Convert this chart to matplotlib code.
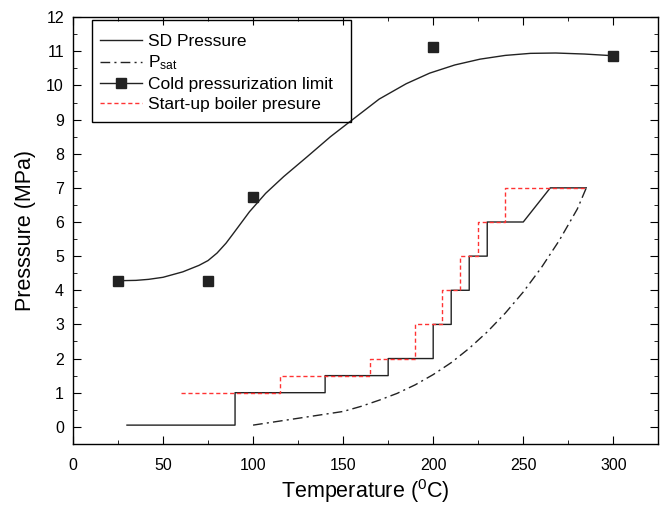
import matplotlib
matplotlib.use('Agg')
import matplotlib.pyplot as plt
from matplotlib.lines import Line2D
from matplotlib.patches import Rectangle
from matplotlib.ticker import MultipleLocator

plt.rcParams['font.family'] = ['Liberation Sans', 'DejaVu Sans']
plt.rcParams['mathtext.fontset'] = 'custom'
plt.rcParams['mathtext.rm'] = 'Liberation Sans'
plt.rcParams['mathtext.it'] = 'Liberation Sans:italic'

# SD pressure (step line, vertices)
sd_T = [30, 90, 90, 140, 140, 175, 175, 200, 200, 210, 210, 220, 220, 230, 230, 250, 265, 285]
sd_P = [0.05, 0.05, 1, 1, 1.5, 1.5, 2, 2, 3, 3, 4, 4, 5, 5, 6, 6, 7, 7]

# start-up boiler pressure (step line, vertices)
su_T = [60, 115, 115, 165, 165, 190, 190, 205, 205, 215, 215, 225, 225, 240, 240, 285]
su_P = [1, 1, 1.5, 1.5, 2, 2, 3, 3, 4, 4, 5, 5, 6, 6, 7, 7]

# saturation pressure
sat_T = [100, 150, 160, 170, 180, 190, 200, 210, 220, 230, 240, 250, 260, 270, 280, 285]
sat_P = [0.05, 0.45, 0.6, 0.78, 0.98, 1.23, 1.53, 1.88, 2.3, 2.78, 3.33, 3.95, 4.66, 5.46, 6.38, 7.0]

# cold pressurization limit (points + fitted curve)
cold_T = [25, 75, 100, 200, 300]
cold_P = [4.28, 4.28, 6.72, 11.12, 10.87]
fit_T = [25, 35, 42, 50, 61, 70, 75, 80, 85, 89, 98, 107, 117, 130, 143, 155, 170,
         185, 198, 212, 226, 240, 254, 268, 284, 300]
fit_P = [4.28, 4.29, 4.32, 4.38, 4.54, 4.73, 4.87, 5.09, 5.38, 5.66, 6.3, 6.84, 7.33,
         7.91, 8.5, 8.99, 9.6, 10.05, 10.36, 10.6, 10.77, 10.88, 10.94, 10.95, 10.92, 10.87]

fig = plt.figure(figsize=(6.63, 5.05), dpi=100)
ax = fig.add_axes([0.110, 0.121, 0.883, 0.845])

dark = '#222222'
ax.plot(sd_T, sd_P, color=dark, lw=1.0)
ax.plot(sat_T, sat_P, color=dark, lw=1.0, dashes=(7, 3, 1.5, 3))
ax.plot(fit_T, fit_P, color=dark, lw=1.0)
ax.plot(cold_T, cold_P, ls='none', marker='s', ms=7, color=dark)
ax.plot(su_T, su_P, color='#ff3333', lw=1.0, dashes=(3, 2))

ax.set_xlim(0, 325)
ax.set_ylim(-0.5, 12)
ax.xaxis.set_major_locator(MultipleLocator(50))
ax.xaxis.set_minor_locator(MultipleLocator(25))
ax.yaxis.set_major_locator(MultipleLocator(1))
ax.yaxis.set_minor_locator(MultipleLocator(0.5))
ax.tick_params(which='both', direction='in', top=True, right=True, labelsize=11.5)
ax.tick_params(which='major', length=6)
ax.tick_params(which='minor', length=3)
ax.tick_params(axis='x', pad=10)
ax.tick_params(axis='y', pad=6.5)
for s in ax.spines.values():
    s.set_linewidth(1.0)

ax.set_xlabel(r'Temperature ($^{0}$C)', fontsize=15.5, labelpad=3)
ax.set_ylabel('Presssure (MPa)', fontsize=15.5, labelpad=7)

# legend box
ax.add_patch(Rectangle((0.0325, 0.754), 0.4425, 0.239, transform=ax.transAxes,
                       fill=False, edgecolor='black', lw=1.0, zorder=5))

handles = [
    Line2D([], [], color=dark, lw=1.0),
    Line2D([], [], color=dark, lw=1.0, dashes=(7, 3, 1.5, 3)),
    Line2D([], [], color=dark, lw=1.0, marker='s', ms=7),
    Line2D([], [], color='#ff3333', lw=1.0, dashes=(3, 2)),
]
labels = ['SD Pressure', r'P$_{\mathrm{sat}}$', 'Cold pressurization limit',
          'Start-up boiler presure']
ax.legend(handles, labels, loc='upper left', bbox_to_anchor=(0.046, 0.961),
          borderaxespad=0, borderpad=0, fontsize=12.5, handlelength=2.4,
          handletextpad=0.4, frameon=False, labelspacing=0.27)

fig.savefig('out.png', dpi=100)
